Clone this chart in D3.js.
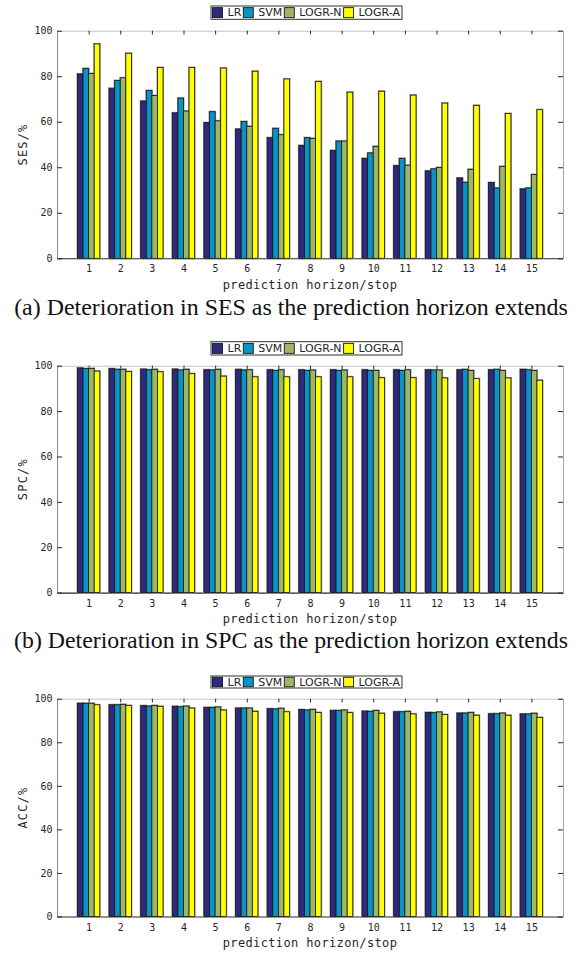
<!DOCTYPE html>
<html>
<head>
<meta charset="utf-8">
<script src="https://cdn.jsdelivr.net/npm/d3@7"></script>
<style>
  body { margin: 0; background: #fff; }
  svg { display: block; }
</style>
</head>
<body>
<svg id="fig" width="584" height="956"></svg>
<script>
// Prediction horizons (stops) and model names
const horizons = [1, 2, 3, 4, 5, 6, 7, 8, 9, 10, 11, 12, 13, 14, 15];
const seriesNames = ["LR", "SVM", "LOGR-N", "LOGR-A"];
const yTicks = [0, 20, 40, 60, 80, 100];

// Sensitivity (SES, %)
const sesLR    = [81.0, 74.7, 69.1, 63.9, 59.6, 56.8, 53.0, 49.6, 47.4, 43.9, 40.7, 38.4, 35.3, 33.3, 30.5];
const sesSVM   = [83.4, 78.1, 73.7, 70.4, 64.4, 60.1, 57.1, 53.0, 51.5, 46.3, 43.9, 39.3, 33.4, 30.9, 30.9];
const sesLogrN = [81.2, 79.3, 71.5, 64.7, 60.4, 58.0, 54.3, 52.7, 51.5, 49.2, 40.9, 39.9, 39.1, 40.4, 36.8];
const sesLogrA = [94.2, 90.1, 83.8, 83.8, 83.6, 82.2, 78.8, 77.7, 73.0, 73.4, 71.7, 68.2, 67.2, 63.6, 65.3];

// Specificity (SPC, %)
const spcLR    = [99.0, 98.7, 98.5, 98.5, 98.2, 98.4, 98.2, 98.2, 98.2, 98.2, 98.2, 98.2, 98.2, 98.2, 98.4];
const spcSVM   = [98.7, 98.4, 98.2, 98.1, 98.1, 98.1, 97.9, 97.9, 97.9, 97.9, 97.9, 98.1, 98.4, 98.4, 98.2];
const spcLogrN = [98.8, 98.4, 98.4, 98.4, 98.4, 98.2, 98.2, 98.1, 98.1, 97.9, 98.2, 98.1, 97.9, 97.9, 97.9];
const spcLogrA = [97.6, 97.4, 97.3, 96.5, 95.4, 95.1, 95.1, 95.1, 95.1, 94.7, 94.7, 94.6, 94.3, 94.6, 93.6];

// Accuracy (ACC, %)
const accLR    = [97.9, 97.2, 96.8, 96.5, 96.0, 95.7, 95.4, 95.0, 94.6, 94.3, 94.0, 93.7, 93.4, 93.1, 93.0];
const accSVM   = [97.9, 97.2, 96.6, 96.3, 96.0, 95.7, 95.3, 94.8, 94.6, 94.2, 94.0, 93.6, 93.4, 93.1, 93.0];
const accLogrN = [97.9, 97.4, 96.9, 96.6, 96.2, 95.7, 95.6, 95.1, 94.8, 94.6, 94.2, 93.9, 93.7, 93.4, 93.3];
const accLogrA = [97.2, 96.9, 96.5, 95.7, 94.8, 94.2, 94.0, 93.7, 93.6, 93.3, 93.0, 92.7, 92.4, 92.4, 91.4];

const seriesColors = ["#2e2a7d", "#0a93c6", "#9cb866", "#ffff00"];

const tickFont = "'DejaVu Sans Mono', monospace";
const labelFont = "'DejaVu Sans Mono', monospace";
const legendFont = "'DejaVu Sans', sans-serif";
const captionFont = "'Liberation Serif', 'Times New Roman', serif";

const panels = [
  { values: [sesLR, sesSVM, sesLogrN, sesLogrA], yLabel: "SES/%",
    top: 30.7, bottom: 258.3, legendTop: 6, legendH: 13.3,
    caption: "(a) Deterioration in SES as the prediction horizon extends", captionY: 315 },
  { values: [spcLR, spcSVM, spcLogrN, spcLogrA], yLabel: "SPC/%",
    top: 365.7, bottom: 592.6, legendTop: 341.7, legendH: 13.3,
    caption: "(b) Deterioration in SPC as the prediction horizon extends", captionY: 648 },
  { values: [accLR, accSVM, accLogrN, accLogrA], yLabel: "ACC/%",
    top: 698.7, bottom: 916.5, legendTop: 676, legendH: 12,
    caption: null }
];

const svg = d3.select("#fig");
const plotLeft = 57, plotRight = 563;

// Shrink/stretch a text's spacing so that it spans a given width
function fitSpacing(sel, width) {
  const node = sel.node();
  const len = node.getComputedTextLength();
  const n = sel.text().length;
  sel.attr("letter-spacing", ((width - len) / n).toFixed(3));
}

panels.forEach(p => {
  const g = svg.append("g");
  const x = d3.scaleLinear().domain([0, 16]).range([plotLeft, plotRight]);
  const y = d3.scaleLinear().domain([0, 100]).range([p.bottom, p.top]);
  const groupW = x(0.705) - x(0);
  const inner = d3.scaleBand().domain(seriesNames).range([-groupW / 2, groupW / 2]).padding(0);

  // Box: bottom, left, top, right
  const axB = g.append("g").attr("transform", `translate(0,${p.bottom})`)
    .call(d3.axisBottom(x).tickValues(horizons).tickSize(0).tickSizeOuter(0).tickPadding(7));
  axB.select(".domain").attr("stroke", "#262626").attr("stroke-width", 1.1);
  axB.selectAll("text").attr("font-family", tickFont).attr("font-size", 10).attr("fill", "#262626");

  const axT = g.append("g").attr("transform", `translate(0,${p.top})`)
    .call(d3.axisTop(x).tickValues(horizons).tickSize(-3.7).tickSizeOuter(0).tickFormat(""));
  axT.select(".domain").attr("stroke", "#c4c4c4");
  axT.selectAll(".tick line").attr("stroke", "#262626");

  const axL = g.append("g").attr("transform", `translate(${plotLeft},0)`)
    .call(d3.axisLeft(y).tickValues(yTicks).tickSize(-5).tickSizeOuter(0).tickPadding(4.5));
  axL.select(".domain").attr("stroke", "#8c8c8c");
  axL.selectAll(".tick line").attr("stroke", "#262626");
  axL.selectAll("text").attr("font-family", tickFont).attr("font-size", 10).attr("fill", "#262626");

  const axR = g.append("g").attr("transform", `translate(${plotRight},0)`)
    .call(d3.axisRight(y).tickValues(yTicks).tickSize(-5).tickSizeOuter(0).tickFormat(""));
  axR.select(".domain").attr("stroke", "#a8a8a8");
  axR.selectAll(".tick line").attr("stroke", "#262626");

  // Grouped bars
  const cells = [];
  seriesNames.forEach((s, si) => {
    horizons.forEach((h, hi) => cells.push({ s, si, h, v: p.values[si][hi] }));
  });
  const bars = g.append("g");
  bars.selectAll("rect.halo").data(cells).join("rect")
    .attr("class", "halo")
    .attr("x", d => x(d.h) + inner(d.s))
    .attr("y", d => y(d.v))
    .attr("width", inner.bandwidth())
    .attr("height", d => y(0) - y(d.v))
    .attr("fill", "none")
    .attr("stroke", "#9a9a9a")
    .attr("stroke-width", 2);
  bars.selectAll("rect.bar").data(cells).join("rect")
    .attr("class", "bar")
    .attr("x", d => x(d.h) + inner(d.s))
    .attr("y", d => y(d.v))
    .attr("width", inner.bandwidth())
    .attr("height", d => y(0) - y(d.v))
    .attr("fill", d => seriesColors[d.si])
    .attr("stroke", "#151515")
    .attr("stroke-width", 0.8);

  // Axis titles
  const xt = g.append("text")
    .attr("x", (plotLeft + plotRight) / 2).attr("y", p.bottom + 30.5)
    .attr("text-anchor", "middle")
    .attr("font-family", labelFont).attr("font-size", 12).attr("fill", "#262626")
    .text("prediction horizon/stop");
  fitSpacing(xt, 174.6);

  const yt = g.append("text")
    .attr("transform", `translate(26.5,${(p.top + p.bottom) / 2}) rotate(-90)`)
    .attr("text-anchor", "middle")
    .attr("font-family", labelFont).attr("font-size", 12).attr("fill", "#262626")
    .text(p.yLabel);
  fitSpacing(yt, 42);

  // Legend
  const leg = g.append("g");
  const box = leg.append("rect")
    .attr("x", 211).attr("y", p.legendTop)
    .attr("height", p.legendH)
    .attr("fill", "#fff").attr("stroke", "#333").attr("stroke-width", 1);
  let cx = 212.5;
  const sw = 10, sh = Math.min(10, p.legendH - 2.5);
  const sy = p.legendTop + (p.legendH - sh) / 2;
  seriesNames.forEach((s, si) => {
    leg.append("rect")
      .attr("x", cx).attr("y", sy).attr("width", sw).attr("height", sh)
      .attr("fill", seriesColors[si]).attr("stroke", "#151515").attr("stroke-width", 0.9);
    const t = leg.append("text")
      .attr("x", cx + sw + 5).attr("y", p.legendTop + p.legendH / 2)
      .attr("dominant-baseline", "central")
      .attr("font-family", legendFont).attr("font-size", 11).attr("fill", "#262626")
      .text(s);
    cx = cx + sw + 5 + t.node().getComputedTextLength() + 2;
  });
  box.attr("width", cx - 211);

  // Caption under the panel
  if (p.caption) {
    const c = svg.append("text")
      .attr("x", 291).attr("y", p.captionY)
      .attr("text-anchor", "middle")
      .attr("font-family", captionFont).attr("font-size", 20).attr("fill", "#111")
      .text(p.caption);
    const len = c.node().getComputedTextLength();
    c.attr("font-size", (20 * 554 / len).toFixed(2));
  }
});
</script>
</body>
</html>
